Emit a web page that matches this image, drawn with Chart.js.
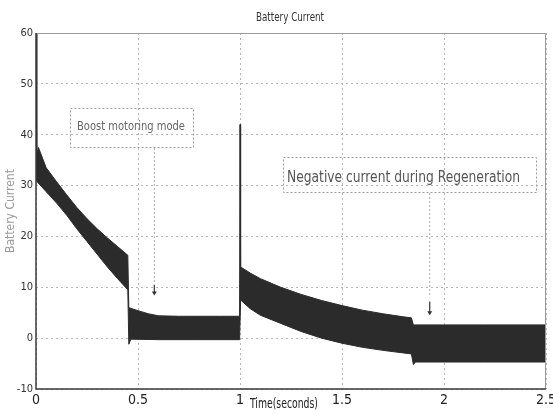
<!DOCTYPE html>
<html>
<head>
<meta charset="utf-8">
<script src="https://cdn.jsdelivr.net/npm/chart.js@4.4.0/dist/chart.umd.min.js"></script>
<style>
  html, body { margin: 0; padding: 0; background: #ffffff; }
</style>
</head>
<body>
<canvas id="grafico" width="553" height="414"></canvas>
<script>
// Envolvente superior de la corriente (A) y sus tiempos (s)
const tiemposSup = [0, 0.004, 0.012, 0.05, 0.1, 0.15, 0.2, 0.25, 0.3, 0.35, 0.4, 0.45,
  0.455, 0.5, 0.55, 0.6, 0.7, 0.8, 0.9, 0.998,
  1.0, 1.003, 1.05, 1.1, 1.2, 1.3, 1.4, 1.5, 1.6, 1.7, 1.8, 1.84,
  1.85, 2.0, 2.2, 2.5];
const corrienteSup = [60, 36, 37.5, 33.5, 30.8, 28.2, 25.7, 23.5, 21.5, 19.7, 18, 16.3,
  6, 5.4, 4.8, 4.4, 4.3, 4.3, 4.3, 4.3,
  42, 14, 12.8, 11.7, 10, 8.6, 7.4, 6.4, 5.5, 4.8, 4.2, 4.0,
  2.6, 2.6, 2.6, 2.6];

// Envolvente inferior de la corriente (A) y sus tiempos (s)
const tiemposInf = [0, 0.05, 0.1, 0.15, 0.2, 0.25, 0.3, 0.35, 0.4, 0.45,
  0.455, 0.465, 0.6, 0.8, 0.998,
  1.003, 1.05, 1.1, 1.2, 1.3, 1.4, 1.5, 1.6, 1.7, 1.8, 1.84,
  1.85, 1.86, 2.0, 2.2, 2.5];
const corrienteInf = [31, 28.8, 26.6, 24.2, 21.5, 19, 16.5, 14, 11.7, 9.5,
  -1.2, -0.2, -0.3, -0.3, -0.3,
  7.5, 5.8, 4.5, 2.9, 1.3, 0, -1, -1.8, -2.4, -2.9, -3.1,
  -5.2, -4.7, -4.7, -4.7, -4.7];

// Ticks de los ejes
const ticksX = [0, 0.5, 1, 1.5, 2, 2.5];
const ticksY = [-10, 0, 10, 20, 30, 40, 50, 60];

const fuente = "'Liberation Sans Narrow', 'DejaVu Sans Condensed', Arial, sans-serif";
const colorBanda = "#2b2b2b";

// Dibuja un texto comprimido para que ocupe el ancho dado
function textoEstrecho(ctx, texto, x, y, ancho) {
  const w = ctx.measureText(texto).width;
  const f = Math.min(1, ancho / w);
  ctx.save();
  ctx.translate(x, y);
  ctx.scale(f, 1);
  ctx.fillText(texto, 0, 0);
  ctx.restore();
}

// Plugin para marco, título, anotaciones y etiqueta del eje x
const decoraciones = {
  id: "decoraciones",
  afterDraw(chart) {
    const ctx = chart.ctx;
    const a = chart.chartArea;
    const sx = chart.scales.x;
    const sy = chart.scales.y;
    ctx.save();

    // marco
    ctx.strokeStyle = "#9a9a9a";
    ctx.lineWidth = 1;
    ctx.beginPath();
    ctx.moveTo(a.left, a.top + 0.5);
    ctx.lineTo(a.right - 0.5, a.top + 0.5);
    ctx.lineTo(a.right - 0.5, a.bottom);
    ctx.stroke();
    ctx.strokeStyle = "#3a3a3a";
    ctx.lineWidth = 1.5;
    ctx.beginPath();
    ctx.moveTo(a.left, a.top);
    ctx.lineTo(a.left, a.bottom);
    ctx.lineTo(a.right, a.bottom);
    ctx.stroke();

    // título
    ctx.fillStyle = "#333";
    ctx.font = "12px " + fuente;
    ctx.textAlign = "left";
    ctx.textBaseline = "middle";
    textoEstrecho(ctx, "Battery Current", 256, 18, 68);

    // etiqueta del eje x junto a los ticks
    ctx.font = "14px " + fuente;
    ctx.fillStyle = "#222";
    textoEstrecho(ctx, "Time(seconds)", 250, a.bottom + 15, 68);

    // cuadro "Boost motoring mode"
    ctx.setLineDash([2, 2]);
    ctx.strokeStyle = "#9a9a9a";
    ctx.lineWidth = 1;
    ctx.strokeRect(70.5, 108.5, 123, 39);
    ctx.font = "12px " + fuente;
    ctx.fillStyle = "#666";
    textoEstrecho(ctx, "Boost motoring mode", 77, 127, 108);

    // cuadro "Negative current during Regeneration"
    ctx.strokeRect(283.5, 157.5, 253, 35);
    ctx.font = "16px " + fuente;
    ctx.fillStyle = "#555";
    textoEstrecho(ctx, "Negative current during Regeneration", 287, 178, 233);

    // líneas guía hacia las flechas
    ctx.strokeStyle = "#aaa";
    const x1 = sx.getPixelForValue(0.58);
    const x2 = sx.getPixelForValue(1.93);
    ctx.beginPath();
    ctx.moveTo(x1, 148); ctx.lineTo(x1, sy.getPixelForValue(11));
    ctx.moveTo(x2, 193); ctx.lineTo(x2, sy.getPixelForValue(8));
    ctx.stroke();
    ctx.setLineDash([]);

    // flechas
    ctx.strokeStyle = "#333";
    ctx.fillStyle = "#333";
    ctx.lineWidth = 1.2;
    [[x1, 10.5, 8.4], [x2, 7.2, 4.5]].forEach(([x, y0, y1]) => {
      const p0 = sy.getPixelForValue(y0);
      const p1 = sy.getPixelForValue(y1);
      ctx.beginPath();
      ctx.moveTo(x, p0); ctx.lineTo(x, p1 - 3);
      ctx.stroke();
      ctx.beginPath();
      ctx.moveTo(x - 2.5, p1 - 4); ctx.lineTo(x + 2.5, p1 - 4); ctx.lineTo(x, p1);
      ctx.closePath();
      ctx.fill();
    });

    ctx.restore();
  }
};

const puntosSup = tiemposSup.map((t, i) => ({ x: t, y: corrienteSup[i] }));
const puntosInf = tiemposInf.map((t, i) => ({ x: t, y: corrienteInf[i] }));

new Chart(document.getElementById("grafico").getContext("2d"), {
  type: "line",
  data: {
    datasets: [
      {
        label: "Superior",
        data: puntosSup,
        borderColor: colorBanda,
        borderWidth: 1,
        pointRadius: 0,
        fill: false,
      },
      {
        label: "Inferior",
        data: puntosInf,
        borderColor: colorBanda,
        backgroundColor: colorBanda,
        borderWidth: 1,
        pointRadius: 0,
        fill: "-1",
      },
    ],
  },
  options: {
    responsive: false,
    animation: false,
    layout: { padding: { top: 33, right: 7, left: 0, bottom: 0 } },
    plugins: {
      legend: { display: false },
      tooltip: { enabled: false },
    },
    scales: {
      x: {
        type: "linear",
        min: 0,
        max: 2.5,
        afterBuildTicks: (s) => { s.ticks = ticksX.map((v) => ({ value: v })); },
        afterFit: (s) => { s.height = 25; s.paddingRight = 0; s.paddingLeft = 0; },
        ticks: {
          color: "#222",
          font: { family: fuente, size: 14 },
          maxRotation: 0,
          padding: 3,
          callback: (v) => String(v),
        },
        grid: { color: "#b5b5b5", drawTicks: false },
        border: { display: false, dash: [2, 3] },
      },
      y: {
        min: -10,
        max: 60,
        afterBuildTicks: (s) => { s.ticks = ticksY.map((v) => ({ value: v })); },
        afterFit: (s) => { s.width = 36; s.paddingTop = 0; s.paddingBottom = 0; },
        ticks: {
          color: "#333",
          font: { family: fuente, size: 11 },
          padding: 3,
          callback: (v) => String(v),
        },
        title: {
          display: true,
          text: "Battery Current",
          color: "#9a9a9a",
          font: { family: fuente, size: 12 },
          padding: { top: 4, bottom: 0 },
        },
        grid: { color: "#b5b5b5", drawTicks: false },
        border: { display: false, dash: [2, 3] },
      },
    },
  },
  plugins: [decoraciones],
});
</script>
</body>
</html>
